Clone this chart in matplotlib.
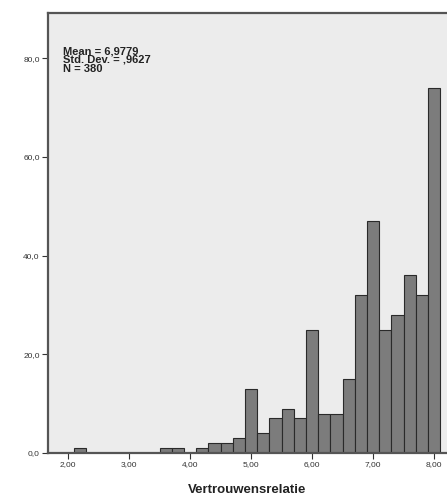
import matplotlib.pyplot as plt

# bin centres (width 0.2) and counts
centers = [2.2, 3.6, 3.8, 4.2, 4.4, 4.6, 4.8, 5.0, 5.2, 5.4, 5.6, 5.8,
           6.0, 6.2, 6.4, 6.6, 6.8, 7.0, 7.2, 7.4, 7.6, 7.8, 8.0]
counts = [1, 1, 1, 1, 2, 2, 3, 13, 4, 7, 9, 7,
          25, 8, 8, 15, 32, 47, 25, 28, 36, 32, 74]
x_ticks = [2, 3, 4, 5, 6, 7, 8]
x_labels = ["2,00", "3,00", "4,00", "5,00", "6,00", "7,00", "8,00"]
y_ticks = [0, 20, 40, 60, 80]
y_labels = ["0,0", "20,0", "40,0", "60,0", "80,0"]
stats = "Mean = 6,9779\nStd. Dev. = ,9627\nN = 380"

plt.rcParams['font.family'] = ['Liberation Sans', 'DejaVu Sans']

fig = plt.figure(figsize=(4.47, 4.97), dpi=100)
ax = fig.add_axes([48 / 447, 1 - 453 / 497, 399 / 447, 440 / 497])
ax.set_facecolor('#ececec')

ax.bar(centers, counts, width=0.2, color='#7c7c7c', edgecolor='#2a2a2a',
       linewidth=0.8, zorder=2)

ax.set_xlim(1.67, 8.21)
ax.set_ylim(0, 89.2)
ax.set_xticks(x_ticks)
ax.set_xticklabels(x_labels)
ax.set_yticks(y_ticks)
ax.set_yticklabels(y_labels)
ax.tick_params(axis='both', labelsize=6, length=4, width=0.8,
               color='#333333', labelcolor='#333333', pad=2)

for side in ['left', 'bottom', 'top']:
    ax.spines[side].set_color('#555555')
    ax.spines[side].set_linewidth(1.6)
ax.spines['right'].set_visible(False)

# summary box in the upper left, as SPSS prints it
ax.text(0.037, 0.925, stats, transform=ax.transAxes, fontsize=8,
        fontweight='bold', va='top', ha='left', linespacing=0.85,
        color='#222222')

ax.set_xlabel("Vertrouwensrelatie", fontsize=9.5, fontweight='bold',
              color='#222222', labelpad=11)

fig.savefig("out.png", dpi=100)
